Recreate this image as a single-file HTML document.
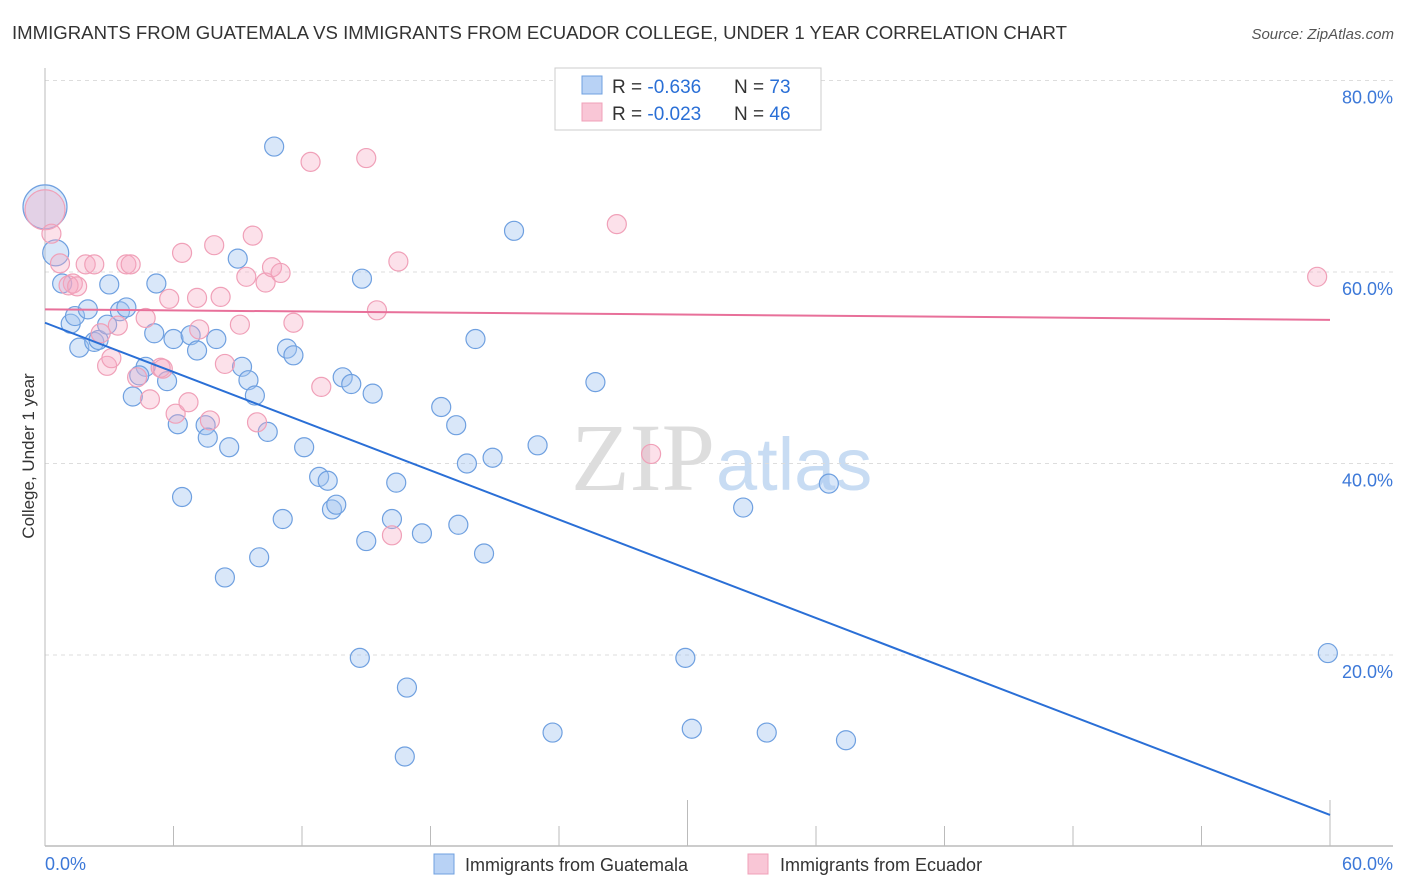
<!DOCTYPE html>
<html><head><meta charset="utf-8"><style>
body{margin:0;background:#fff;font-family:"Liberation Sans",sans-serif}
svg{display:block}
</style></head><body>
<svg width="1406" height="892" xmlns="http://www.w3.org/2000/svg">
<text x="12" y="39" font-size="18" fill="#333" textLength="1055" lengthAdjust="spacingAndGlyphs">IMMIGRANTS FROM GUATEMALA VS IMMIGRANTS FROM ECUADOR COLLEGE, UNDER 1 YEAR CORRELATION CHART</text>
<text x="1394" y="39" font-size="15" fill="#555" text-anchor="end" font-style="italic">Source: ZipAtlas.com</text>
<text x="715" y="490" font-size="96" fill="#ddd" text-anchor="end" font-family="Liberation Serif">ZIP</text>
<text x="716" y="490" font-size="74" fill="#c8dcf3">atlas</text>
<g id="grid"></g>
<g id="axes"></g>
<g id="pts"></g>
<g id="lines"></g>
<text transform="translate(34,456) rotate(-90)" font-size="17" fill="#333" text-anchor="middle">College, Under 1 year</text>
<g>
<rect x="555" y="68" width="266" height="62" fill="#fff" stroke="#ccc"/>
<rect x="582" y="76" width="20" height="18" fill="#b8d2f5" stroke="#6fa0e0"/>
<text x="612" y="93" font-size="19" fill="#333">R = <tspan fill="#2a6fd6">-0.636</tspan></text>
<text x="734" y="93" font-size="19" fill="#333">N = <tspan fill="#2a6fd6">73</tspan></text>
<rect x="582" y="103" width="20" height="18" fill="#f9c6d6" stroke="#f0a0b8"/>
<text x="612" y="120" font-size="19" fill="#333">R = <tspan fill="#2a6fd6">-0.023</tspan></text>
<text x="734" y="120" font-size="19" fill="#333">N = <tspan fill="#2a6fd6">46</tspan></text>
</g>
<g>
<rect x="434" y="854" width="20" height="20" fill="#b8d2f5" stroke="#6fa0e0"/>
<text x="465" y="871" font-size="18" fill="#333">Immigrants from Guatemala</text>
<rect x="748" y="854" width="20" height="20" fill="#f9c6d6" stroke="#f0a0b8"/>
<text x="780" y="871" font-size="18" fill="#333">Immigrants from Ecuador</text>
</g>
</svg>
<script>
const xTicks=[0,60];
const yTicks=[20,40,60,80];
const guatX=[0,0.5,0.8,1.2,1.4,2,1.6,2.3,2.5,3,2.9,3.5,3.8,4.1,4.7,4.4,5.1,5.2,5.7,6,6.2,6.4,6.8,7.1,7.5,7.6,8,8.6,8.4,9,9.2,9.5,9.8,10,10.4,10.7,11.1,11.3,11.6,12.1,12.8,13.2,13.4,13.6,13.9,14.3,14.7,14.8,15,15.3,16.2,16.4,16.9,16.8,17.6,18.5,19.2,19.3,19.7,20.1,20.5,20.9,21.9,23,23.7,25.7,29.9,30.2,32.6,33.7,36.6,37.4,59.9];
const guatY=[66.8,62,58.8,54.6,55.4,56.1,52.1,52.7,52.9,58.7,54.5,55.9,56.3,47,50.1,49.2,53.6,58.8,48.6,53,44.1,36.5,53.4,51.8,44,42.7,53,41.7,28.1,61.4,50.1,48.7,47.1,30.2,43.3,73.1,34.2,52,51.3,41.7,38.6,38.2,35.2,35.7,49,48.3,19.7,59.3,31.9,47.3,34.2,38,16.6,9.4,32.7,45.9,44,33.6,40,53,30.6,40.6,64.3,41.9,11.9,48.5,19.7,12.3,35.4,11.9,37.9,11.1,20.2];
const ecuX=[0,0.3,0.7,1.3,1.1,1.5,1.9,2.3,2.6,2.9,3.1,3.4,3.8,4,4.7,4.3,4.9,5.4,5.5,5.8,6.1,6.4,6.7,7.1,7.2,7.7,7.9,8.2,8.4,9.1,9.4,9.7,9.9,10.3,10.6,11,11.6,12.4,12.9,15,15.5,16.2,16.5,26.7,28.3,59.4];
const ecuY=[66.5,64,60.9,58.8,58.6,58.5,60.8,60.8,53.6,50.2,51,54.4,60.8,60.8,55.2,49,46.7,50,49.9,57.2,45.2,62,46.4,57.3,54,44.5,62.8,57.4,50.4,54.5,59.5,63.8,44.3,58.9,60.5,59.9,54.7,71.5,48,71.9,56,32.5,61.1,65,41,59.5];
const trendGuat=[54.7,3.3];
const trendEcu=[56.1,55.0];
const NS="http://www.w3.org/2000/svg";
const X=v=>45+v/60*1285, Y=v=>846.5-v*9.575;
function mk(t,a,p){const e=document.createElementNS(NS,t);for(const k in a)e.setAttribute(k,a[k]);document.getElementById(p).appendChild(e);return e;}
yTicks.forEach(t=>{
 const l=mk('line',{x1:45,x2:1393,y1:Y(t),y2:Y(t),stroke:'#ddd','stroke-dasharray':'4,4'},'grid');
 
 
 const tx=mk('text',{x:1393,y:Y(t)+23,'font-size':18,fill:'#3c78d8','text-anchor':'end'},'grid');
 tx.textContent=t.toFixed(1)+'%';
 
 
});
let al=mk('line',{x1:45,x2:1393,y1:846,y2:846,stroke:'#bbb','stroke-width':1.5},'axes');


let yl=mk('line',{x1:45,x2:45,y1:68,y2:846,stroke:'#bbb'},'axes');


for(let i=0;i<=10;i++){const v=i*6;const tall=(i==5||i==10);
 const tk=mk('line',{x1:X(v),x2:X(v),y1:tall?800:826,y2:846,stroke:'#bbb'},'axes');
 
 }
xTicks.forEach((t,i)=>{const tx=mk('text',{x:i==0?45:1393,y:870,'font-size':18,fill:'#3c78d8','text-anchor':i==0?'start':'end'},'axes');
 tx.textContent=t.toFixed(1)+'%';
 
 });
guatX.forEach((v,i)=>{const c=mk('circle',{cx:X(v),cy:Y(guatY[i]),r:i==0?22:(i==1?13:9.5),fill:'rgba(160,195,240,0.4)',stroke:'#6fa0e0','stroke-width':1.2},'pts');
 
 });
ecuX.forEach((v,i)=>{const c=mk('circle',{cx:X(v),cy:Y(ecuY[i]),r:i==0?20:9.5,fill:'rgba(245,170,195,0.35)',stroke:'#f0a0b8','stroke-width':1.2},'pts');
 
 });
let tg=mk('line',{x1:X(0),y1:Y(trendGuat[0]),x2:X(60),y2:Y(trendGuat[1]),stroke:'#2a6fd6','stroke-width':2},'lines');


let te=mk('line',{x1:X(0),y1:Y(trendEcu[0]),x2:X(60),y2:Y(trendEcu[1]),stroke:'#e8709a','stroke-width':2},'lines');


</script>
</body></html>
